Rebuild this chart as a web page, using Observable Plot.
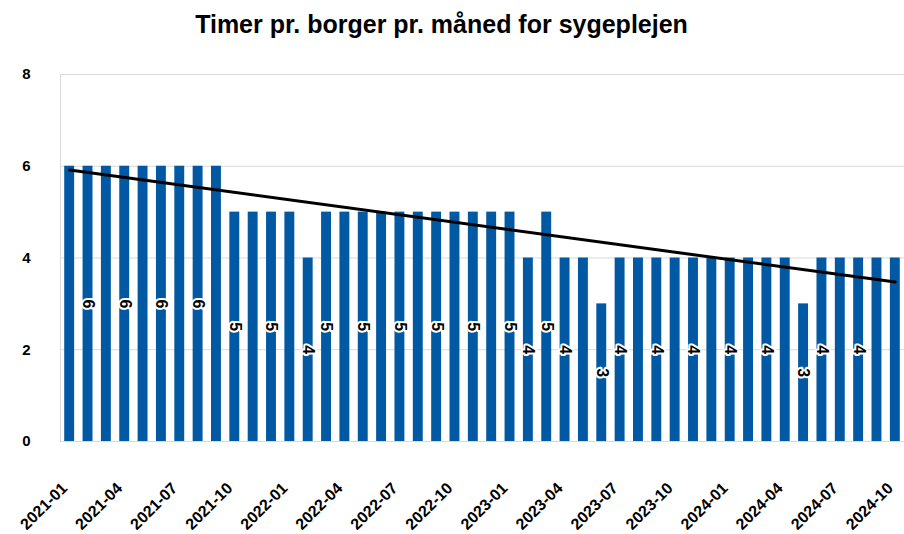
<!DOCTYPE html>
<html>
<head>
<meta charset="utf-8">
<script src="https://cdn.jsdelivr.net/npm/d3@7"></script>
<script src="https://cdn.jsdelivr.net/npm/@observablehq/plot@0.6"></script>
<style>
  html, body { margin: 0; padding: 0; background: #fff; }
  body { font-family: "Liberation Sans", Arial, sans-serif; width: 904px; overflow: hidden; }
  #title {
    box-sizing: border-box; width: 904px; height: 50px; padding-top: 12px; padding-right: 21px;
    text-align: center; font-weight: bold; font-size: 25px; line-height: 24px; color: #000;
  }
</style>
</head>
<body>
<div id="title">Timer pr. borger pr. måned for sygeplejen</div>
<div id="chart"></div>
<script>
const months = [
  "2021-01","2021-02","2021-03","2021-04","2021-05","2021-06","2021-07","2021-08","2021-09","2021-10","2021-11","2021-12",
  "2022-01","2022-02","2022-03","2022-04","2022-05","2022-06","2022-07","2022-08","2022-09","2022-10","2022-11","2022-12",
  "2023-01","2023-02","2023-03","2023-04","2023-05","2023-06","2023-07","2023-08","2023-09","2023-10","2023-11","2023-12",
  "2024-01","2024-02","2024-03","2024-04","2024-05","2024-06","2024-07","2024-08","2024-09","2024-10"
];
const hours = [
  6,6,6,6,6,6,6,6,6,5,5,5,
  5,4,5,5,5,5,5,5,5,5,5,5,
  5,4,5,4,4,3,4,4,4,4,4,4,
  4,4,4,4,3,4,4,4,4,4
];
// months whose data label is visible in the original chart
const labeledMonths = [
  "2021-02","2021-04","2021-06","2021-08","2021-10","2021-12","2022-02","2022-03","2022-05","2022-07",
  "2022-09","2022-11","2023-01","2023-02","2023-03","2023-04","2023-06","2023-07","2023-09","2023-11",
  "2024-01","2024-03","2024-05","2024-06","2024-08"
];
const xTicks = ["2021-01","2021-04","2021-07","2021-10","2022-01","2022-04","2022-07","2022-10",
  "2023-01","2023-04","2023-07","2023-10","2024-01","2024-04","2024-07","2024-10"];
const yTicks = [0, 2, 4, 6, 8];

const data = months.map((m, i) => ({month: m, value: hours[i], idx: i}));

// Linear trend line (least squares on month index), as in the original chart
const n = data.length;
const mx = d3.mean(data, d => d.idx), my = d3.mean(data, d => d.value);
const slope = d3.sum(data, d => (d.idx - mx) * (d.value - my)) / d3.sum(data, d => (d.idx - mx) ** 2);
const intercept = my - slope * mx;
const trend = [data[0], data[n - 1]].map(d => ({month: d.month, value: intercept + slope * d.idx}));

const chart = Plot.plot({
  width: 904,
  height: 484,
  marginTop: 24,
  marginBottom: 93,
  marginLeft: 60,
  marginRight: 0,
  style: {fontFamily: "'Liberation Sans', Arial, sans-serif", fontWeight: "bold", color: "#000", background: "#fff"},
  x: {type: "band", domain: months, paddingInner: 0.46, paddingOuter: 0.23, round: false, label: null},
  y: {domain: [0, 8], label: null},
  marks: [
    Plot.gridY(yTicks, {stroke: "#d9d9d9", strokeOpacity: 1, strokeWidth: 1}),
    Plot.frame({stroke: "#d9d9d9", strokeWidth: 1}),
    Plot.barY(data, {x: "month", y: "value", fill: "#0059a2"}),
    Plot.text(data.filter(d => labeledMonths.includes(d.month)), {
      x: "month", y: d => d.value / 2, text: d => String(d.value),
      rotate: 90, fontSize: 16, fontWeight: "bold", fill: "#000",
      stroke: "#fff", strokeWidth: 4, paintOrder: "stroke"
    }),
    Plot.line(trend, {x: "month", y: "value", stroke: "#000", strokeWidth: 3}),
    Plot.axisY({ticks: yTicks, tickSize: 0, tickPadding: 30, fontSize: 15, fontWeight: "bold", label: null}),
    Plot.axisX({ticks: xTicks, tickSize: 0, tickPadding: 44, dx: -5, tickRotate: -45, fontSize: 16, fontWeight: "bold", label: null})
  ]
});
document.getElementById("chart").appendChild(chart);
</script>
</body>
</html>
